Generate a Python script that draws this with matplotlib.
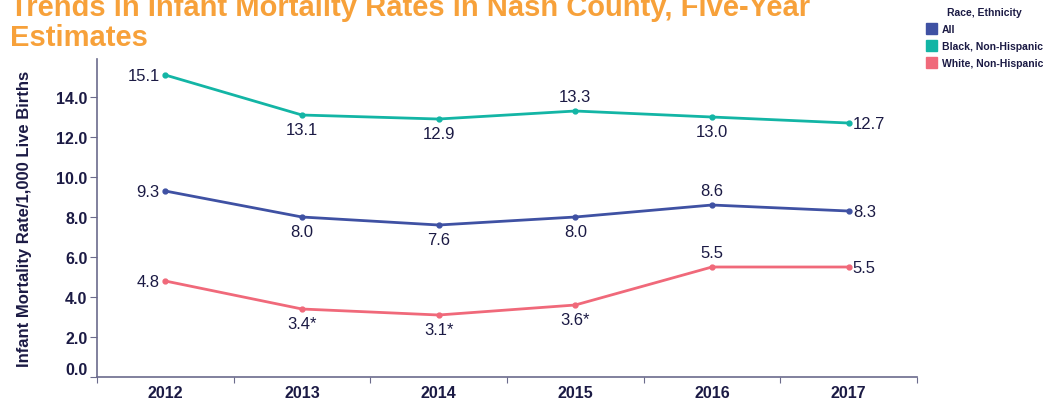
import matplotlib
matplotlib.use("Agg")
import matplotlib.pyplot as plt
from matplotlib.patches import Patch
import numpy as np

plt.rcParams['font.family'] = ['Liberation Sans', 'DejaVu Sans']

years = ["2012", "2013", "2014", "2015", "2016", "2017"]
all_rate = [9.3, 8.0, 7.6, 8.0, 8.6, 8.3]
black_rate = [15.1, 13.1, 12.9, 13.3, 13.0, 12.7]
white_rate = [4.8, 3.4, 3.1, 3.6, 5.5, 5.5]
white_lbl = ["4.8", "3.4*", "3.1*", "3.6*", "5.5", "5.5"]

# where each label sits: l = left, r = right, a = above, b = below
all_pos = ["l", "b", "b", "b", "a", "r"]
black_pos = ["l", "b", "b", "a", "b", "r"]
white_pos = ["l", "b", "b", "b", "a", "r"]

c_all = "#3F51A3"
c_black = "#13B5A5"
c_white = "#F0697A"
navy = "#1B1A44"
axis_col = "#6B6B8C"

fig = plt.figure(figsize=(10.61, 4.02), dpi=100)
ax = fig.add_axes([0.0914, 0.0597, 0.7728, 0.7910])

x = np.arange(len(years))


def draw(vals, labels, pos, col):
    ax.plot(x, vals, color=col, lw=2, marker="o", ms=3.5, zorder=3)
    for xi, v, t, p in zip(x, vals, labels, pos):
        if p == "l":
            ax.annotate(t, (xi, v), xytext=(-4, 0), textcoords="offset points",
                        ha="right", va="center", fontsize=12, color=navy)
        elif p == "r":
            ax.annotate(t, (xi, v), xytext=(3, 0), textcoords="offset points",
                        ha="left", va="center", fontsize=12, color=navy)
        elif p == "a":
            ax.annotate(t, (xi, v), xytext=(0, 5), textcoords="offset points",
                        ha="center", va="bottom", fontsize=12, color=navy)
        else:
            ax.annotate(t, (xi, v), xytext=(0, -5), textcoords="offset points",
                        ha="center", va="top", fontsize=12, color=navy)


draw(all_rate, [f"{v:.1f}" for v in all_rate], all_pos, c_all)
draw(black_rate, [f"{v:.1f}" for v in black_rate], black_pos, c_black)
draw(white_rate, white_lbl, white_pos, c_white)

ax.set_xlim(-0.5, 5.5)
ax.set_ylim(0, 15.9)
ax.set_yticks(np.arange(0, 15, 2))
ax.set_yticklabels([f"{v:.1f}" for v in np.arange(0, 15, 2)])
ax.set_xticks(np.arange(-0.5, 6, 1))
ax.set_xticklabels([])
ax.set_xticks(x, minor=True)
ax.set_xticklabels(years, minor=True)
ax.tick_params(axis="x", which="minor", length=0, pad=6)
ax.tick_params(axis="x", which="major", length=4, color=axis_col)
ax.tick_params(axis="y", length=5, color=axis_col, pad=2)
for lab in ax.get_xticklabels(minor=True) + ax.get_yticklabels():
    lab.set_fontweight("bold")
    lab.set_fontsize(11.5)
    lab.set_color(navy)
ax.get_yticklabels()[0].set_va("bottom")

for s in ["top", "right"]:
    ax.spines[s].set_visible(False)
for s in ["left", "bottom"]:
    ax.spines[s].set_color(axis_col)
    ax.spines[s].set_linewidth(1.2)

ax.set_ylabel("Infant Mortality Rate/1,000 Live Births", fontsize=12,
              fontweight="bold", color=navy, labelpad=17)

fig.text(0.009, 0.87, "Trends in Infant Mortality Rates in Nash County, Five-Year\nEstimates",
         fontsize=21, fontweight="bold", color="#F7A13A", ha="left", va="bottom",
         linespacing=1.1)

handles = [Patch(color=c_all, label="All"),
           Patch(color=c_black, label="Black, Non-Hispanic"),
           Patch(color=c_white, label="White, Non-Hispanic")]
leg = fig.legend(handles=handles, title="Race, Ethnicity", loc="upper left",
                 bbox_to_anchor=(0.869, 0.99), frameon=False,
                 prop={"weight": "bold", "size": 7.5}, handlelength=1.0,
                 handleheight=1.3, handletextpad=0.5, labelspacing=0.55,
                 borderaxespad=0)
leg.get_title().set_fontweight("bold")
leg.get_title().set_fontsize(7.5)
leg.get_title().set_color(navy)
for t in leg.get_texts():
    t.set_color(navy)

fig.savefig("out.png", dpi=100)
